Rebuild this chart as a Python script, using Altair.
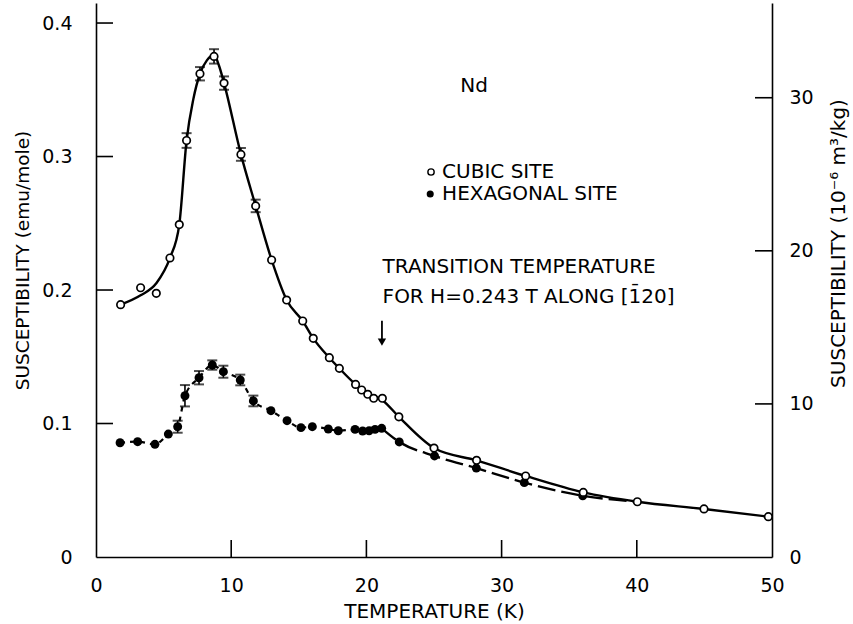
import altair as alt
import pandas as pd

# ---------------- data ----------------
cubic_T = [1.82, 3.30, 4.46, 5.47, 6.16, 6.70, 7.69, 8.73, 9.47, 10.72, 11.81, 12.99,
           14.1, 15.29, 16.07, 17.26, 18.0, 19.2, 19.65, 20.1, 20.54, 21.18, 22.4,
           25.0, 28.15, 31.78, 36.04, 40.04, 44.97, 49.73]
cubic_chi = [0.189, 0.2017, 0.1975, 0.224, 0.249, 0.312, 0.362, 0.375, 0.355, 0.3016, 0.263, 0.2225,
             0.1925, 0.1768, 0.1638, 0.1493, 0.1413, 0.1293, 0.1251, 0.1219, 0.1189, 0.1189, 0.105,
             0.0816, 0.0724, 0.0607, 0.0484, 0.0414, 0.036, 0.0302]

cubic_err_T = [6.70, 7.69, 8.73, 9.47, 10.72, 11.81]
cubic_err_chi = [0.312, 0.362, 0.375, 0.355, 0.3016, 0.263]
cubic_err = [0.0055, 0.005, 0.0054, 0.005, 0.0048, 0.0047]

# smooth fitted curve through the cubic-site data
curve_T = [1.82, 3.3, 4.46, 5.47, 6.16, 6.7, 7.2, 7.69, 8.2, 8.73, 9.1, 9.47, 10.72, 11.81, 12.99,
           14.1, 15.29, 16.07, 17.26, 18.0, 19.2, 20.1, 21.18, 22.4, 25.0, 28.15, 31.78, 36.04,
           40.04, 44.97, 49.73]
curve_chi = [0.189, 0.196, 0.205, 0.224, 0.249, 0.312, 0.343, 0.362, 0.372, 0.376, 0.368, 0.355,
             0.3016, 0.263, 0.2225, 0.1925, 0.1768, 0.1638, 0.1493, 0.1413, 0.1293, 0.1222, 0.1175,
             0.105, 0.0816, 0.0724, 0.0607, 0.0484, 0.0414, 0.036, 0.0302]

hex_T = [1.78, 3.08, 4.36, 5.35, 6.04, 6.58, 7.62, 8.6, 9.42, 10.67, 11.64, 12.94, 14.13, 15.16,
         16.0, 17.18, 17.92, 19.16, 19.72, 20.2, 20.64, 21.13, 22.43, 25.04, 28.13, 31.68, 36.0]
hex_chi = [0.0856, 0.0864, 0.0844, 0.0921, 0.0976, 0.1208, 0.1343, 0.1438, 0.1388, 0.1326, 0.1169,
           0.1096, 0.1021, 0.0969, 0.0976, 0.0959, 0.0946, 0.0956, 0.0944, 0.0946, 0.0956, 0.0964,
           0.0862, 0.0757, 0.0666, 0.0557, 0.0459]

hex_err_T = [6.04, 6.58, 7.62, 8.6, 9.42, 10.67, 11.64]
hex_err_chi = [0.0976, 0.1208, 0.1343, 0.1438, 0.1388, 0.1326, 0.1169]
hex_err = [0.0045, 0.008, 0.005, 0.0035, 0.0045, 0.004, 0.004]

hex_dash_T = [21.13, 22.43, 25.04, 28.13, 31.68, 36.0, 40.04]
hex_dash_chi = [0.0964, 0.0862, 0.0757, 0.0666, 0.0557, 0.0459, 0.0414]

x_ticks = [0, 10, 20, 30, 40, 50]
y_ticks = [0, 0.1, 0.2, 0.3, 0.4]
y2_ticks = [0, 10, 20, 30]

transition_T = 21.15
arrow_top, arrow_tip = 0.177, 0.157

# ---------------- layout constants ----------------
W, H = 676, 554
YMAX = 0.415
K = 87.2   # (10^-6 m^3/kg) per (emu/mole)
FONT = "DejaVu Sans"
TICK = 17

xs = alt.Scale(domain=[0, 50], nice=False, zero=False)
ys = alt.Scale(domain=[0, YMAX], nice=False, zero=False)
ys2 = alt.Scale(domain=[0, YMAX * K], nice=False, zero=False)

cubic = pd.DataFrame({"T": cubic_T, "chi": cubic_chi})
curve = pd.DataFrame({"T": curve_T, "chi": curve_chi})
hexa = pd.DataFrame({"T": hex_T, "chi": hex_chi})
hex1 = hexa[hexa["T"] <= 21.2]
hex2 = pd.DataFrame({"T": hex_dash_T, "chi": hex_dash_chi})
cerr = pd.DataFrame({"T": cubic_err_T, "lo": [c - e for c, e in zip(cubic_err_chi, cubic_err)],
                     "hi": [c + e for c, e in zip(cubic_err_chi, cubic_err)]})
herr = pd.DataFrame({"T": hex_err_T, "lo": [c - e for c, e in zip(hex_err_chi, hex_err)],
                     "hi": [c + e for c, e in zip(hex_err_chi, hex_err)]})

x_axis = alt.Axis(values=x_ticks, ticks=False, tickSize=0, grid=False, domainColor="black",
                  domainWidth=1.6, labelFontSize=19, labelPadding=19, labelFont=FONT,
                  labelColor="black", labelFlush=False, title="TEMPERATURE (K)", titleFontSize=20,
                  titleFontWeight="normal", titleFont=FONT, titleColor="black",
                  titleY=54, titleBaseline="middle")
y_axis = alt.Axis(values=y_ticks, ticks=False, tickSize=0, grid=False, domainColor="black",
                  domainWidth=1.6, labelFontSize=19, labelPadding=24, labelFont=FONT,
                  labelColor="black", labelFlush=False,
                  labelExpr="datum.value == 0 ? '0' : format(datum.value, '.1f')",
                  title="SUSCEPTIBILITY (emu/mole)", titleFontSize=18.5, titleFont=FONT,
                  titleFontWeight="normal", titleColor="black", titleAngle=270,
                  titleX=-74, titleY=257, titleBaseline="middle", titleAlign="center")
y2_axis = alt.Axis(orient="right", values=y2_ticks, ticks=False, tickSize=0, grid=False,
                   domainColor="black", domainWidth=1.6, labelFontSize=19, labelPadding=17,
                   labelFont=FONT, labelColor="black", labelFlush=False,
                   title="SUSCEPTIBILITY (10⁻⁶ m³/kg)", titleFontSize=20, titleFont=FONT,
                   titleFontWeight="normal", titleColor="black", titleAngle=270,
                   titleX=66, titleY=240, titleBaseline="middle", titleAlign="center")

X = alt.X("T:Q", scale=xs, axis=x_axis)
Y = alt.Y("chi:Q", scale=ys, axis=y_axis)

def Yf(field):
    return alt.Y(field + ":Q", scale=ys, axis=y_axis)

curve_line = alt.Chart(curve).mark_line(color="black", strokeWidth=2.4, interpolate="monotone").encode(
    x=X, y=Y)
hex_line1 = alt.Chart(hex1).mark_line(color="black", strokeWidth=2.2, strokeDash=[5, 5],
                                      interpolate="monotone").encode(x=X, y=Y)
hex_line2 = alt.Chart(hex2).mark_line(color="black", strokeWidth=2.4, strokeDash=[18, 6],
                                      interpolate="monotone").encode(x=X, y=Y)

def errbars(df):
    r = alt.Chart(df).mark_rule(color="black", strokeWidth=1.6).encode(
        x=X, y=Yf("lo"), y2="hi:Q")
    c1 = alt.Chart(df).mark_tick(color="black", orient="horizontal", size=10, thickness=2).encode(
        x=X, y=Yf("lo"))
    c2 = alt.Chart(df).mark_tick(color="black", orient="horizontal", size=10, thickness=2).encode(
        x=X, y=Yf("hi"))
    return [r, c1, c2]

hex_pts = alt.Chart(hexa).mark_point(shape="circle", filled=True, color="black", size=80,
                                     opacity=1).encode(x=X, y=Y)
cub_pts = alt.Chart(cubic).mark_point(shape="circle", filled=True, fill="white", stroke="black",
                                      strokeWidth=1.7, size=56, opacity=1).encode(x=X, y=Y)

# inward ticks
left_ticks = alt.Chart(pd.DataFrame({"v": y_ticks[1:]})).mark_rule(color="black", strokeWidth=1.6).encode(
    y=Yf("v"), x=alt.value(0), x2=alt.value(TICK))
bottom_ticks = alt.Chart(pd.DataFrame({"T": x_ticks[1:-1]})).mark_rule(color="black", strokeWidth=1.6).encode(
    x=X, y=alt.value(H), y2=alt.value(H - TICK))

# annotations
txt = dict(font=FONT, fontSize=20, color="black", baseline="middle")
nd = alt.Chart(pd.DataFrame({"T": [27.96], "chi": [0.3528], "s": ["Nd"]})).mark_text(
    align="center", **txt).encode(x=X, y=Y, text="s:N")
leg_txt = alt.Chart(pd.DataFrame({"T": [25.6, 25.6], "chi": [0.2884, 0.2719],
                                  "s": ["CUBIC SITE", "HEXAGONAL SITE"]})).mark_text(
    align="left", **txt).encode(x=X, y=Y, text="s:N")
leg_open = alt.Chart(pd.DataFrame({"T": [24.78], "chi": [0.2884]})).mark_point(
    shape="circle", filled=True, fill="white", stroke="black", strokeWidth=1.4, size=40,
    opacity=1).encode(x=X, y=Y)
leg_fill = alt.Chart(pd.DataFrame({"T": [24.72], "chi": [0.2719]})).mark_point(
    shape="circle", filled=True, color="black", size=50, opacity=1).encode(x=X, y=Y)
trans = alt.Chart(pd.DataFrame({"T": [21.2, 21.2], "chi": [0.2172, 0.1948],
                                "s": ["TRANSITION TEMPERATURE",
                                      "FOR H=0.243 T ALONG [1\u030420]"]})).mark_text(
    align="left", **txt).encode(x=X, y=Y, text="s:N")
arrow = alt.Chart(pd.DataFrame({"T": [transition_T], "top": [arrow_top], "tip": [arrow_tip + 0.005]})).mark_rule(
    color="black", strokeWidth=1.8).encode(x=X, y=Yf("top"), y2="tip:Q")
arrow_head = alt.Chart(pd.DataFrame({"T": [transition_T], "chi": [arrow_tip + 0.004]})).mark_point(
    shape="triangle-down", filled=True, color="black", size=70, opacity=1).encode(x=X, y=Y)

main = alt.layer(curve_line, hex_line1, hex_line2, *errbars(cerr), *errbars(herr), hex_pts, cub_pts,
                 left_ticks, bottom_ticks, nd, leg_txt, leg_open, leg_fill, trans, arrow, arrow_head)

right = alt.Chart(pd.DataFrame({"r": y2_ticks[1:]})).mark_rule(color="black", strokeWidth=1.6).encode(
    y=alt.Y("r:Q", scale=ys2, axis=y2_axis), x=alt.value(W - TICK), x2=alt.value(W))

chart = alt.layer(main, right).resolve_scale(y="independent").properties(
    width=W, height=H, autosize=alt.AutoSizeParams(type="none"),
    padding={"left": 96, "top": 3, "right": 81, "bottom": 67},
    background="white"
).configure_view(stroke=None)

chart.save("out.html", embed_options={"renderer": "svg", "actions": False})
